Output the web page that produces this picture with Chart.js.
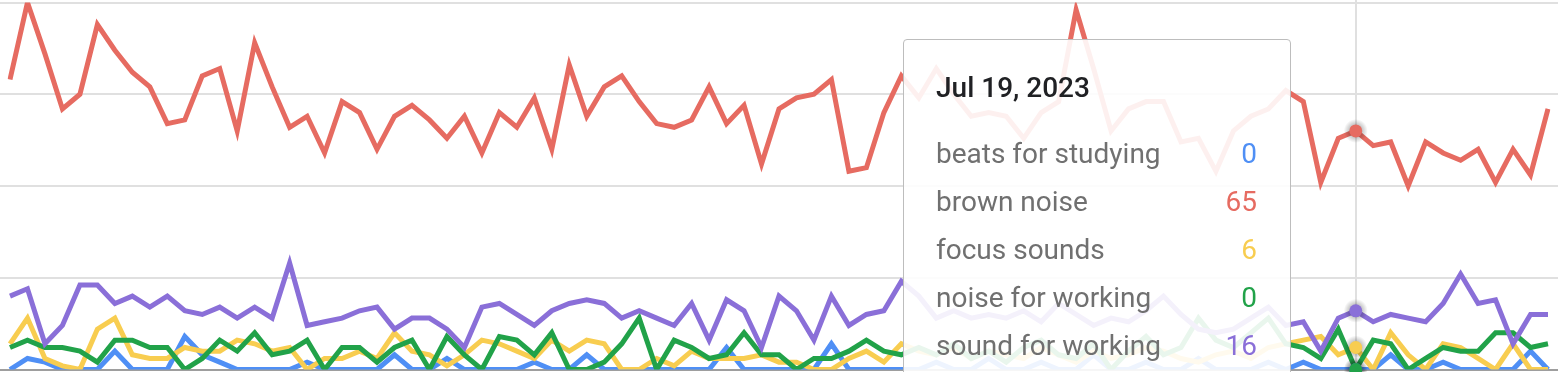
<!DOCTYPE html>
<html>
<head>
<meta charset="utf-8">
<script src="https://cdn.jsdelivr.net/npm/chart.js@4.4.0/dist/chart.umd.min.js"></script>
<style>
  html, body { margin: 0; padding: 0; background: #fff; overflow: hidden; }
  #wrap { position: relative; width: 1558px; height: 372px; overflow: hidden; }
  #tip {
    position: absolute; top: 39px; width: 388px; height: 360px;
    box-sizing: border-box; padding: 0 33px 0 32px;
    background: rgba(255,255,255,0.9);
    border: 1px solid #bdbdbd; border-radius: 4px;
    font-family: Roboto, "Noto Sans", sans-serif;
    display: none;
  }
  .tt-title { margin-top: 34px; margin-bottom: 28px; font-size: 28px; line-height: 28px; font-weight: 500; color: #202124; }
  .tt-row { display: flex; justify-content: space-between; font-size: 28px; line-height: 48px; }
  .tt-label { color: #707070; }
</style>
</head>
<body>
<div id="wrap">
  <canvas id="chart" width="1558" height="372"></canvas>
  <div id="tip"></div>
</div>
<script>
// daily dates, May 3 - Jul 30, 2023
const labels = [
  'May 3, 2023','May 4, 2023','May 5, 2023','May 6, 2023','May 7, 2023','May 8, 2023','May 9, 2023','May 10, 2023',
  'May 11, 2023','May 12, 2023','May 13, 2023','May 14, 2023','May 15, 2023','May 16, 2023','May 17, 2023','May 18, 2023',
  'May 19, 2023','May 20, 2023','May 21, 2023','May 22, 2023','May 23, 2023','May 24, 2023','May 25, 2023','May 26, 2023',
  'May 27, 2023','May 28, 2023','May 29, 2023','May 30, 2023','May 31, 2023',
  'Jun 1, 2023','Jun 2, 2023','Jun 3, 2023','Jun 4, 2023','Jun 5, 2023','Jun 6, 2023','Jun 7, 2023','Jun 8, 2023',
  'Jun 9, 2023','Jun 10, 2023','Jun 11, 2023','Jun 12, 2023','Jun 13, 2023','Jun 14, 2023','Jun 15, 2023','Jun 16, 2023',
  'Jun 17, 2023','Jun 18, 2023','Jun 19, 2023','Jun 20, 2023','Jun 21, 2023','Jun 22, 2023','Jun 23, 2023','Jun 24, 2023',
  'Jun 25, 2023','Jun 26, 2023','Jun 27, 2023','Jun 28, 2023','Jun 29, 2023','Jun 30, 2023',
  'Jul 1, 2023','Jul 2, 2023','Jul 3, 2023','Jul 4, 2023','Jul 5, 2023','Jul 6, 2023','Jul 7, 2023','Jul 8, 2023',
  'Jul 9, 2023','Jul 10, 2023','Jul 11, 2023','Jul 12, 2023','Jul 13, 2023','Jul 14, 2023','Jul 15, 2023','Jul 16, 2023',
  'Jul 17, 2023','Jul 18, 2023','Jul 19, 2023','Jul 20, 2023','Jul 21, 2023','Jul 22, 2023','Jul 23, 2023','Jul 24, 2023',
  'Jul 25, 2023','Jul 26, 2023','Jul 27, 2023','Jul 28, 2023','Jul 29, 2023','Jul 30, 2023'
];

const beatsForStudying = [
  0,3,2,0,0,0,5,0,0,0,9,4,2,0,0,
  0,0,2,0,0,0,0,4,0,0,3,0,0,0,0,
  2,0,0,4,0,0,0,0,0,0,0,6,0,0,0,
  0,0,7,0,0,0,0,
  0,2,0,0,3,0,0,2,0,0,4,0,0,2,0,0,3,0,0,0,2,0,
  2,0,0,0,0,4,0,0,2,0,0,0,0,5,0
];
const brownNoise = [
  79,100,86,71,75,94,87,81,77,67,68,80,82,65,89,77,66,69,59,73,70,60,69,
  72,68,63,69,59,70,66,74,60,83,69,77,80,73,67,66,68,77,67,72,56,71,74,75,79,54,55,70,80,
  74,82,75,69,70,69,63,70,73,98,82,65,71,73,73,62,63,54,65,69,71,76,73,
  51,63,65,61,62,50,62,59,57,60,51,60,53,71
];
const focusSounds = [
  7,14,3,1,0,11,14,4,3,3,6,5,5,8,7,
  5,6,0,3,3,5,3,10,5,4,1,4,8,7,5,
  3,8,5,8,7,0,0,3,1,5,3,3,3,4,2,
  2,0,0,3,5,2,7,
  5,4,6,3,5,4,3,6,4,2,5,3,4,6,5,3,2,4,5,3,6,7,
  8,9,4,6,0,10,4,0,7,6,3,0,7,0,0
];
const noiseForWorking = [
  6,8,6,6,5,2,8,8,6,6,0,3,8,5,10,
  4,5,8,0,6,6,2,6,8,0,9,4,0,9,8,
  4,10,0,0,2,7,14,0,8,6,3,4,10,4,4,
  0,3,3,5,8,5,4,
  6,4,7,3,5,2,6,8,4,3,7,0,5,9,4,6,14,8,6,10,14,7,
  6,3,11,0,8,7,0,3,6,5,5,10,10,6,7
];
const soundForWorking = [
  20,22,7,12,23,23,18,20,17,20,16,15,17,14,17,
  14,29,12,13,14,16,17,11,14,14,11,6,17,18,15,
  12,16,18,19,18,14,16,14,12,18,8,19,16,6,20,
  16,8,20,12,15,16,24,
  20,14,16,14,15,14,16,13,18,15,12,14,13,16,20,15,11,10,11,14,17,12,
  13,5,14,16,13,15,14,13,18,26,18,19,7,15,15
];

const seriesNames = ['beats for studying', 'brown noise', 'focus sounds', 'noise for working', 'sound for working'];
const seriesColors = ['#4f8ff5', '#e66b61', '#f8cd50', '#21a249', '#8a6fd8'];
const yTicks = [0, 25, 50, 75, 100];
const hoverIndex = labels.indexOf('Jul 19, 2023');

const seriesData = [beatsForStudying, brownNoise, focusSounds, noiseForWorking, soundForWorking];

// full width gridlines + hover line underneath the lines
const backdrop = {
  id: 'backdrop',
  beforeDatasetsDraw(chart) {
    const ctx = chart.ctx;
    const y = chart.scales.y;
    ctx.save();
    ctx.lineWidth = 2;
    yTicks.forEach(t => {
      const py = Math.round(y.getPixelForValue(t));
      ctx.strokeStyle = t === 0 ? '#9e9e9e' : '#e0e0e0';
      ctx.beginPath();
      ctx.moveTo(0, py);
      ctx.lineTo(chart.width, py);
      ctx.stroke();
    });
    const active = chart.getActiveElements();
    if (active.length) {
      const px = Math.round(active[0].element.x);
      ctx.strokeStyle = '#e0e0e0';
      ctx.beginPath();
      ctx.moveTo(px, 0);
      ctx.lineTo(px, chart.height);
      ctx.stroke();
    }
    ctx.restore();
  },
  afterDatasetsDraw(chart) {
    const ctx = chart.ctx;
    const active = chart.getActiveElements().slice().sort((a, b) => a.datasetIndex - b.datasetIndex);
    ctx.save();
    active.forEach(a => {
      const el = a.element;
      const g = ctx.createRadialGradient(el.x, el.y, 5, el.x, el.y, 12);
      g.addColorStop(0, 'rgba(0,0,0,0.28)');
      g.addColorStop(1, 'rgba(0,0,0,0)');
      ctx.fillStyle = g;
      ctx.beginPath();
      ctx.arc(el.x, el.y, 12, 0, Math.PI * 2);
      ctx.fill();
      ctx.fillStyle = seriesColors[a.datasetIndex];
      ctx.beginPath();
      ctx.arc(el.x, el.y, 6.5, 0, Math.PI * 2);
      ctx.fill();
    });
    ctx.restore();
  }
};

function htmlTip(context) {
  const tip = document.getElementById('tip');
  const tooltip = context.tooltip;
  if (tooltip.opacity === 0) { tip.style.display = 'none'; return; }
  const points = tooltip.dataPoints.slice().sort((a, b) => a.datasetIndex - b.datasetIndex);
  let html = '<div class="tt-title">' + tooltip.title[0] + '</div>';
  points.forEach(p => {
    html += '<div class="tt-row"><span class="tt-label">' + p.dataset.label +
      '</span><span style="color:' + p.dataset.borderColor + '">' + p.formattedValue + '</span></div>';
  });
  tip.innerHTML = html;
  tip.style.left = Math.round(tooltip.caretX - 453) + 'px';
  tip.style.display = 'block';
}

const ctx = document.getElementById('chart').getContext('2d');
const chart = new Chart(ctx, {
  type: 'line',
  data: {
    labels: labels,
    datasets: seriesData.map((d, i) => ({
      label: seriesNames[i],
      data: d,
      borderColor: seriesColors[i],
      backgroundColor: seriesColors[i],
      borderWidth: 5,
      pointRadius: 0,
      pointHoverRadius: 0,
      tension: 0,
      order: seriesData.length - i
    }))
  },
  options: {
    responsive: false,
    animation: false,
    events: [],
    layout: { padding: { left: 10, right: 10, top: 1, bottom: 1 } },
    scales: {
      x: { display: false },
      y: {
        min: 0, max: 100,
        ticks: { display: false, stepSize: 25 },
        grid: { display: false, drawTicks: false },
        border: { display: false }
      }
    },
    plugins: {
      legend: { display: false },
      tooltip: { enabled: false, mode: 'index', intersect: false, external: htmlTip }
    }
  },
  plugins: [backdrop]
});

const activeItems = seriesData.map((d, i) => ({ datasetIndex: i, index: hoverIndex }));
chart.setActiveElements(activeItems);
const el = chart.getDatasetMeta(1).data[hoverIndex];
chart.tooltip.setActiveElements(activeItems, { x: el.x, y: el.y });
chart.update();
</script>
</body>
</html>
